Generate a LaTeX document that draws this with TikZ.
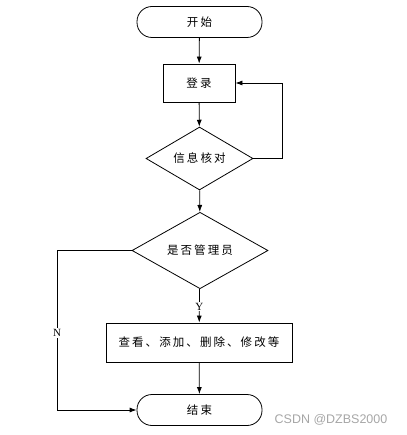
\documentclass[tikz,border=0pt]{standalone}
\usepackage{fontspec}
\setmainfont{Liberation Serif}
\newfontfamily\cjk[LetterSpace=18]{Noto Sans CJK SC}
\newfontfamily\wmfont{Liberation Sans}
\usetikzlibrary{shapes.geometric,arrows.meta}
\begin{document}
\begin{tikzpicture}[x=1pt,y=-1pt,
  line width=0.8pt,
  every node/.style={font=\cjk\fontsize{11.5}{13}\selectfont},
  term/.style={draw, rectangle, rounded corners=15pt, minimum width=125pt, minimum height=31pt, inner sep=0pt},
  proc/.style={draw, rectangle, inner sep=0pt},
  dec/.style={draw, diamond, inner sep=0pt},
  arr/.style={-{Latex[length=7pt,width=5pt]}},
  lab/.style={fill=white, inner sep=1pt, font=\rmfamily\fontsize{11}{12}\selectfont}
]
\path[use as bounding box] (0,0) rectangle (406,435);
\node[term] (start) at (199.5,22) {开始};
\node[proc, minimum width=72pt, minimum height=38pt] (login) at (199,83) {登录};
\node[dec, minimum width=107pt, minimum height=57pt] (d1) at (199.5,158.5) {信息核对};
\node[dec, minimum width=136pt, minimum height=71pt] (d2) at (200,250.5) {是否管理员};
\node[proc, minimum width=186pt, minimum height=39pt] (ops) at (199,342.5) {查看、添加、删除、修改等};
\node[term] (end) at (199.5,410) {结束};
\coordinate (fb) at (282,83);
\coordinate (nc) at (57,410);
\draw[arr] (start) -- (login);
\draw[arr] (login) -- (d1);
\draw[arr] (d1.east) -| (fb) -- (login.east);
\draw[arr] (d1) -- (d2);
\draw[arr] (d2) -- node[lab, pos=0.52] (y) {Y} (ops);
\draw[arr] (ops) -- (end);
\draw[arr] (d2.west) -| (nc) -- (end.west);
\node[lab] (n) at (57,333) {N};
\node[font=\wmfont\fontsize{12.5}{14}\selectfont, text=black!35] (wm) at (331,420) {CSDN @DZBS2000};
\end{tikzpicture}
\end{document}
